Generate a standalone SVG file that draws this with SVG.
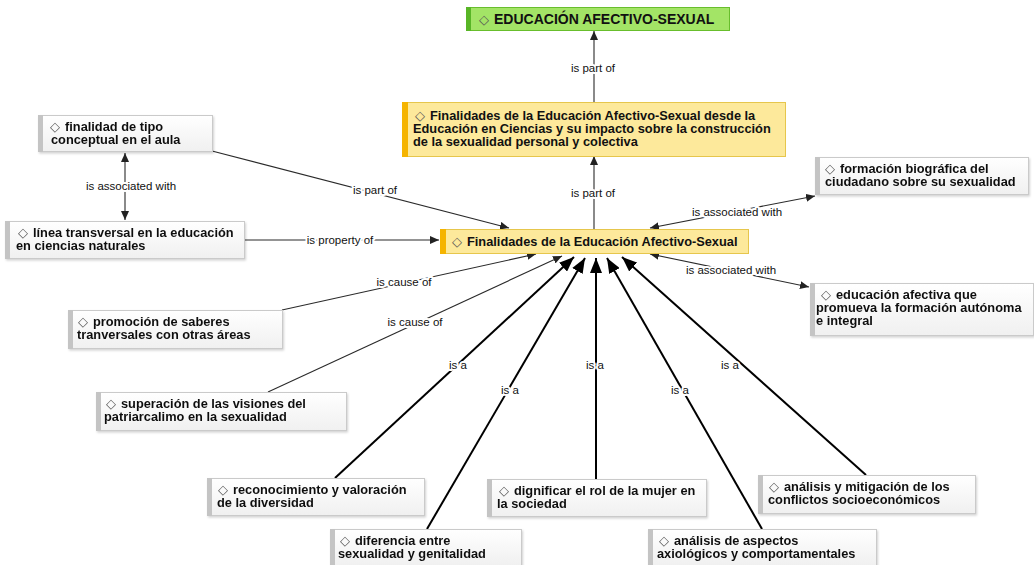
<svg xmlns="http://www.w3.org/2000/svg" width="1034" height="565" viewBox="0 0 1034 565">
<defs>
<style>
.t{font-family:"Liberation Sans",Arial,Helvetica,sans-serif;font-size:12.8px;font-weight:bold;fill:#111}
.big{font-size:14px}
.d{font-family:"DejaVu Sans",sans-serif;font-weight:normal;fill:#555;font-size:13px}
.l{font-family:"Liberation Sans",Arial,Helvetica,sans-serif;font-size:11.5px;fill:#111;text-anchor:middle;paint-order:stroke;stroke:#fff;stroke-width:4px;stroke-linejoin:round}
.gbox{fill:url(#gg);stroke:#cacaca;stroke-width:1}
.gbar{fill:#c4c4c4}
.ybox{fill:#fde99b;stroke:#e6c64c;stroke-width:1}
.ybar{fill:#f5b400}
.grbox{fill:#a3e466;stroke:#68be2c;stroke-width:1}
.grbar{fill:#58b526}
.thin{stroke:#2a2a2a;stroke-width:1.1;fill:none}
.thick{stroke:#000;stroke-width:2;fill:none}
</style>
<linearGradient id="gg" x1="0" y1="0" x2="0" y2="1"><stop offset="0" stop-color="#ffffff"/><stop offset="1" stop-color="#f0f0f0"/></linearGradient>
<filter id="sh" x="-5%" y="-10%" width="110%" height="130%"><feDropShadow dx="1" dy="1.5" stdDeviation="1" flood-color="#000" flood-opacity="0.18"/></filter>
<marker id="a" markerUnits="userSpaceOnUse" markerWidth="10" markerHeight="8" refX="9" refY="4" orient="auto-start-reverse"><path d="M0,0 L9,4 L0,8 z" fill="#222"/></marker>
<marker id="b" markerUnits="userSpaceOnUse" markerWidth="16" markerHeight="12" refX="15" refY="6" orient="auto"><path d="M0,0 L15,6 L0,12 z" fill="#000"/></marker>
</defs>
<rect width="1034" height="565" fill="#fff"/>
<g id="connectors">
<line class="thin" x1="594" y1="102" x2="594" y2="31" marker-end="url(#a)"/>
<text class="l" x="593" y="72">is part of</text>
<line class="thin" x1="594" y1="229" x2="594" y2="156" marker-end="url(#a)"/>
<text class="l" x="593" y="197">is part of</text>
<line class="thin" x1="125" y1="153" x2="125" y2="220" marker-start="url(#a)" marker-end="url(#a)"/>
<text class="l" x="131" y="190">is associated with</text>
<line class="thin" x1="212" y1="151" x2="509" y2="228" marker-end="url(#a)"/>
<text class="l" x="375" y="194">is part of</text>
<line class="thin" x1="245" y1="240" x2="439" y2="240" marker-end="url(#a)"/>
<text class="l" x="340" y="244">is property of</text>
<line class="thin" x1="815" y1="196" x2="650" y2="228" marker-start="url(#a)" marker-end="url(#a)"/>
<text class="l" x="737" y="216">is associated with</text>
<line class="thin" x1="650" y1="254" x2="809" y2="287" marker-start="url(#a)" marker-end="url(#a)"/>
<text class="l" x="731" y="274">is associated with</text>
<line class="thin" x1="282" y1="310" x2="536" y2="254" marker-end="url(#a)"/>
<text class="l" x="404" y="286">is cause of</text>
<line class="thin" x1="268" y1="392" x2="562" y2="256" marker-end="url(#a)"/>
<text class="l" x="415" y="326">is cause of</text>
<line class="thick" x1="335" y1="478" x2="574" y2="257" marker-end="url(#b)"/>
<text class="l" x="458" y="369">is a</text>
<line class="thick" x1="427" y1="529" x2="585" y2="258" marker-end="url(#b)"/>
<text class="l" x="510" y="394">is a</text>
<line class="thick" x1="596" y1="479" x2="596" y2="258" marker-end="url(#b)"/>
<text class="l" x="595" y="369">is a</text>
<line class="thick" x1="762" y1="529" x2="607" y2="258" marker-end="url(#b)"/>
<text class="l" x="680" y="394">is a</text>
<line class="thick" x1="866" y1="475" x2="622" y2="257" marker-end="url(#b)"/>
<text class="l" x="730" y="369">is a</text>
</g>
<g id="n-top">
<rect class="grbox" x="466.5" y="7.5" width="263" height="23"/>
<rect class="grbar" x="466" y="7" width="5" height="24"/>
<text class="t big" y="24"><tspan class="d" x="479">◇</tspan><tspan dx="5">EDUCACIÓN AFECTIVO-SEXUAL</tspan></text>
</g>
<g id="n-desde">
<rect class="ybox" x="402.5" y="102.5" width="383" height="54"/>
<rect class="ybar" x="402" y="102" width="6" height="55"/>
<text class="t"><tspan class="d" x="415" y="120">◇</tspan><tspan dx="5">Finalidades de la Educación Afectivo-Sexual desde la</tspan><tspan x="413" y="133">Educación en Ciencias y su impacto sobre la construcción</tspan><tspan x="413" y="146">de la sexualidad personal y colectiva</tspan></text>
</g>
<g id="n-central">
<rect class="ybox" x="440.5" y="229.5" width="308" height="24"/>
<rect class="ybar" x="440" y="229" width="6" height="25"/>
<text class="t" y="246"><tspan class="d" x="452">◇</tspan><tspan dx="5">Finalidades de la Educación Afectivo-Sexual</tspan></text>
</g>
<g id="n-finalidad" filter="url(#sh)">
<rect class="gbox" x="38.5" y="115.5" width="174" height="36"/>
<rect class="gbar" x="38" y="115" width="5" height="37"/>
<text class="t"><tspan class="d" x="50" y="131">◇</tspan><tspan dx="5">finalidad de tipo</tspan><tspan x="51" y="144">conceptual en el aula</tspan></text>
</g>
<g id="n-linea" filter="url(#sh)">
<rect class="gbox" x="5.5" y="221.5" width="239" height="37"/>
<rect class="gbar" x="5" y="221" width="5" height="38"/>
<text class="t"><tspan class="d" x="18" y="237">◇</tspan><tspan dx="5">línea transversal en la educación</tspan><tspan x="16" y="250">en ciencias naturales</tspan></text>
</g>
<g id="n-promocion" filter="url(#sh)">
<rect class="gbox" x="68.5" y="310.5" width="214" height="38"/>
<rect class="gbar" x="68" y="310" width="5" height="39"/>
<text class="t"><tspan class="d" x="78" y="326">◇</tspan><tspan dx="5">promoción de saberes</tspan><tspan x="77" y="339">tranversales con otras áreas</tspan></text>
</g>
<g id="n-superacion" filter="url(#sh)">
<rect class="gbox" x="96.5" y="392.5" width="250" height="38"/>
<rect class="gbar" x="96" y="392" width="5" height="39"/>
<text class="t"><tspan class="d" x="106" y="408">◇</tspan><tspan dx="5">superación de las visiones del</tspan><tspan x="104" y="421">patriarcalimo en la sexualidad</tspan></text>
</g>
<g id="n-formacion" filter="url(#sh)">
<rect class="gbox" x="815.5" y="157.5" width="213" height="37"/>
<rect class="gbar" x="815" y="157" width="5" height="38"/>
<text class="t"><tspan class="d" x="825" y="173">◇</tspan><tspan dx="5">formación biográfica del</tspan><tspan x="825" y="186">ciudadano sobre su sexualidad</tspan></text>
</g>
<g id="n-educacion" filter="url(#sh)">
<rect class="gbox" x="810.5" y="283.5" width="223" height="52"/>
<rect class="gbar" x="810" y="283" width="5" height="53"/>
<text class="t"><tspan class="d" x="821" y="299">◇</tspan><tspan dx="5">educación afectiva que</tspan><tspan x="816" y="312">promueva la formación autónoma</tspan><tspan x="816" y="325">e integral</tspan></text>
</g>
<g id="n-reconocimiento" filter="url(#sh)">
<rect class="gbox" x="207.5" y="478.5" width="217" height="37"/>
<rect class="gbar" x="207" y="478" width="5" height="38"/>
<text class="t"><tspan class="d" x="218" y="494">◇</tspan><tspan dx="5">reconocimiento y valoración</tspan><tspan x="217" y="507">de la diversidad</tspan></text>
</g>
<g id="n-diferencia" filter="url(#sh)">
<rect class="gbox" x="330.5" y="529.5" width="191" height="36"/>
<rect class="gbar" x="330" y="529" width="5" height="37"/>
<text class="t"><tspan class="d" x="340" y="545">◇</tspan><tspan dx="5">diferencia entre</tspan><tspan x="338" y="558">sexualidad y genitalidad</tspan></text>
</g>
<g id="n-dignificar" filter="url(#sh)">
<rect class="gbox" x="487.5" y="479.5" width="219" height="37"/>
<rect class="gbar" x="487" y="479" width="5" height="38"/>
<text class="t"><tspan class="d" x="499" y="495">◇</tspan><tspan dx="5">dignificar el rol de la mujer en</tspan><tspan x="497" y="508">la sociedad</tspan></text>
</g>
<g id="n-aspectos" filter="url(#sh)">
<rect class="gbox" x="648.5" y="529.5" width="228" height="36"/>
<rect class="gbar" x="648" y="529" width="5" height="37"/>
<text class="t"><tspan class="d" x="659" y="545">◇</tspan><tspan dx="5">análisis de aspectos</tspan><tspan x="657" y="558">axiológicos y comportamentales</tspan></text>
</g>
<g id="n-mitigacion" filter="url(#sh)">
<rect class="gbox" x="758.5" y="475.5" width="217" height="38"/>
<rect class="gbar" x="758" y="475" width="5" height="39"/>
<text class="t"><tspan class="d" x="769" y="491">◇</tspan><tspan dx="5">análisis y mitigación de los</tspan><tspan x="768" y="504">conflictos socioeconómicos</tspan></text>
</g>
</svg>
